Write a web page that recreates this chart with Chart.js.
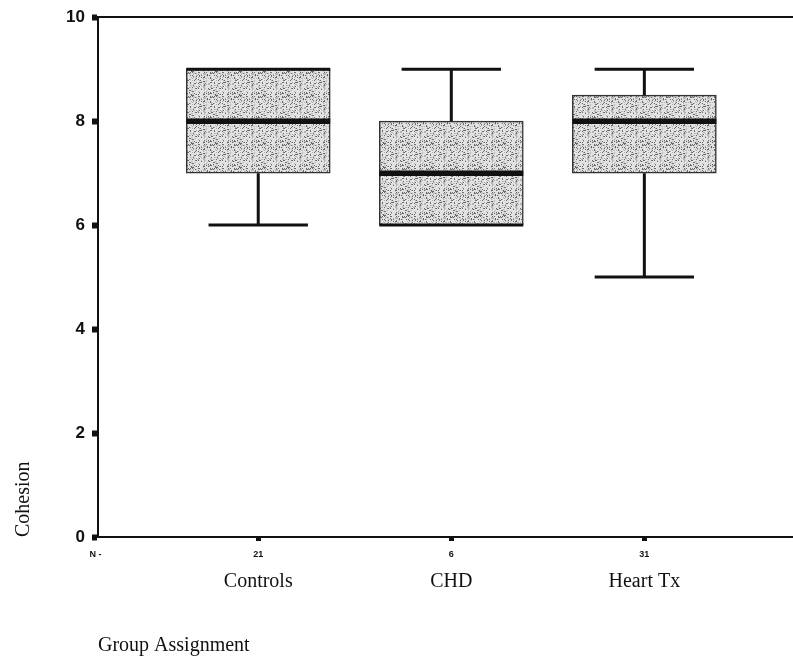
<!DOCTYPE html>
<html>
<head>
<meta charset="utf-8">
<script src="https://cdn.jsdelivr.net/npm/chart.js@4/dist/chart.umd.min.js"></script>
<style>
  html, body { margin: 0; padding: 0; background: #fff; overflow: hidden; }
  #wrap { width: 793px; height: 662px; }
</style>
</head>
<body>
<div id="wrap"><canvas id="boxChart" width="793" height="662"></canvas></div>
<script>
// data
const groups = ["Controls", "CHD", "Heart Tx"];
const counts = [21, 6, 31];
const positions = [1, 2, 3];
const mins = [6, 6, 5];
const q1s = [7, 6, 7];
const medians = [8, 7, 8];
const q3s = [9, 8, 8.5];
const maxs = [9, 9, 9];
const yTicks = [0, 2, 4, 6, 8, 10];

// x range so the groups sit where they do in the scan
const xMin = 0.17, xMax = 3.77;

// stippled grey fill for the boxes (fixed hash, so it looks the same every time)
function stipple() {
  let n = 24;
  let c = document.createElement("canvas");
  c.width = n; c.height = n;
  let g = c.getContext("2d");
  g.fillStyle = "#e2e2e2";
  g.fillRect(0, 0, n, n);
  for (let y = 0; y < n; y++) {
    for (let x = 0; x < n; x++) {
      let h = ((x * 73856093) ^ (y * 19349663)) >>> 0;
      h = (h * 2654435761) >>> 0;
      let k = h % 100;
      if (k < 12) { g.fillStyle = "#6a6a6a"; g.fillRect(x, y, 1, 1); }
      else if (k < 30) { g.fillStyle = "#b4b4b4"; g.fillRect(x, y, 1, 1); }
    }
  }
  return g.createPattern(c, "repeat");
}

// whiskers, caps and medians
const boxExtras = {
  id: "boxExtras",
  afterDatasetsDraw(chart) {
    let ctx = chart.ctx;
    let ys = chart.scales.y;
    let bars = chart.getDatasetMeta(0).data;
    ctx.save();
    ctx.strokeStyle = "#111";
    ctx.lineCap = "butt";
    groups.forEach((g, i) => {
      let { x, width } = bars[i].getProps(["x", "width"], true);
      let half = width / 2;
      let cap = half * 0.69;
      let yMin = ys.getPixelForValue(mins[i]);
      let yMax = ys.getPixelForValue(maxs[i]);
      let yQ1 = ys.getPixelForValue(q1s[i]);
      let yQ3 = ys.getPixelForValue(q3s[i]);
      let yMed = ys.getPixelForValue(medians[i]);

      ctx.lineWidth = 3;
      ctx.beginPath();
      if (maxs[i] > q3s[i]) {
        ctx.moveTo(x, yQ3); ctx.lineTo(x, yMax);
        ctx.moveTo(x - cap, yMax); ctx.lineTo(x + cap, yMax);
      } else {
        ctx.moveTo(x - half, yMax); ctx.lineTo(x + half, yMax);
      }
      if (mins[i] < q1s[i]) {
        ctx.moveTo(x, yQ1); ctx.lineTo(x, yMin);
        ctx.moveTo(x - cap, yMin); ctx.lineTo(x + cap, yMin);
      } else {
        ctx.moveTo(x - half, yMin); ctx.lineTo(x + half, yMin);
      }
      ctx.stroke();

      ctx.lineWidth = 5.5;
      ctx.beginPath();
      ctx.moveTo(x - half, yMed); ctx.lineTo(x + half, yMed);
      ctx.stroke();
    });
    ctx.restore();
  }
};

let ctx = document.getElementById("boxChart").getContext("2d");
new Chart(ctx, {
  type: "bar",
  data: {
    datasets: [{
      data: groups.map((g, i) => ({ x: positions[i], y: [q1s[i], q3s[i]] })),
      backgroundColor: stipple(),
      borderColor: "#333",
      borderWidth: 1.5,
      borderSkipped: false,
      barThickness: 144
    }]
  },
  options: {
    responsive: false,
    animation: false,
    layout: { padding: 0 },
    plugins: { legend: { display: false }, tooltip: { enabled: false } },
    scales: {
      y: {
        min: 0, max: 10,
        afterBuildTicks: s => { s.ticks = yTicks.map(v => ({ value: v })); },
        afterFit: s => { s.width = 98; },
        ticks: {
          color: "#111",
          padding: 7,
          font: { family: "'Liberation Sans', Arial, sans-serif", size: 17, weight: "bold" }
        },
        grid: { drawOnChartArea: false, color: "#111", tickLength: 6, tickWidth: 6 },
        border: { color: "#111", width: 2 },
        title: {
          display: true,
          text: "Cohesion",
          align: "start",
          color: "#111",
          padding: { top: 12, bottom: 0 },
          font: { family: "'Liberation Serif', 'Times New Roman', serif", size: 20 }
        }
      },
      x: {
        type: "linear",
        position: "bottom",
        weight: 0,
        offset: false,
        min: xMin, max: xMax,
        afterBuildTicks: s => { s.ticks = [{ value: xMin }].concat(positions.map(p => ({ value: p }))); },
        afterFit: s => { s.height = 28; },
        ticks: {
          autoSkip: false,
          maxRotation: 0,
          padding: 8,
          color: "#111",
          font: { family: "'Liberation Sans', Arial, sans-serif", size: 9, weight: "bold" },
          callback: (v, i) => i === 0 ? "N -  " : String(counts[i - 1])
        },
        grid: {
          offset: false,
          drawOnChartArea: false,
          tickLength: 4,
          tickWidth: 5,
          color: c => c.index === 0 ? "rgba(0,0,0,0)" : "#111"
        },
        border: { color: "#111", width: 2 }
      },
      x2: {
        type: "linear",
        position: "bottom",
        weight: 1,
        offset: false,
        min: xMin, max: xMax,
        afterBuildTicks: s => { s.ticks = positions.map(p => ({ value: p })); },
        afterFit: s => { s.height = 97; },
        ticks: {
          autoSkip: false,
          maxRotation: 0,
          padding: 5,
          color: "#111",
          font: { family: "'Liberation Serif', 'Times New Roman', serif", size: 20 },
          callback: (v, i) => groups[i]
        },
        grid: { display: false, drawTicks: false, offset: false },
        border: { display: false },
        title: {
          display: true,
          text: "Group Assignment",
          align: "start",
          color: "#111",
          padding: { top: 0, bottom: 4 },
          font: { family: "'Liberation Serif', 'Times New Roman', serif", size: 20 }
        }
      },
      xTop: {
        type: "linear",
        position: "top",
        offset: false,
        min: xMin, max: xMax,
        afterFit: s => { s.height = 17; },
        ticks: { display: false },
        grid: { display: false, drawTicks: false, offset: false },
        border: { color: "#111", width: 2 }
      }
    }
  },
  plugins: [boxExtras]
});
</script>
</body>
</html>
